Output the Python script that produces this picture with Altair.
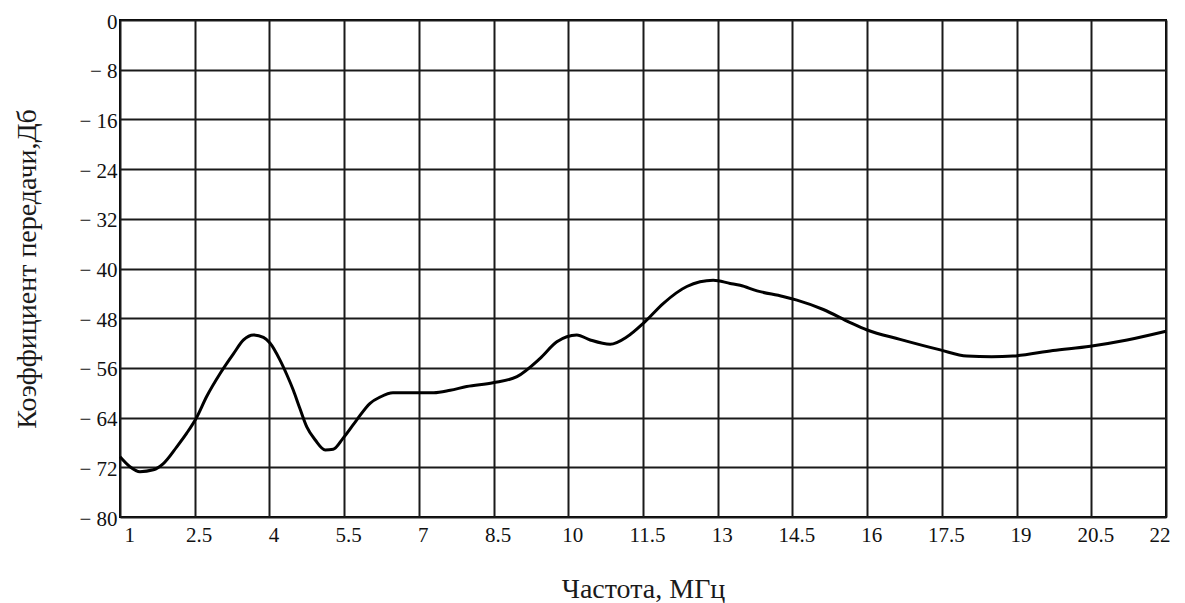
import altair as alt
import pandas as pd

# Transfer coefficient vs. frequency
freq_mhz = [1.0, 1.2, 1.4, 1.67, 1.87, 2.14, 2.34, 2.53, 2.74, 3.01, 3.28,
            3.48, 3.68, 3.88, 4.01, 4.21, 4.35, 4.48, 4.61, 4.75, 4.92, 5.12,
            5.28, 5.48, 5.75, 6.02, 6.22, 6.48, 7.0, 7.3, 7.63, 7.96, 8.49,
            8.97, 9.43, 9.77, 10.17, 10.44, 10.84, 11.18, 11.51, 11.91,
            12.38, 12.91, 13.25, 13.45, 13.79, 14.31, 14.59, 15.12, 15.66,
            16.0, 16.66, 17.47, 18.0, 18.5, 18.93, 19.73, 20.48, 21.22, 22.0]
gain_db = [-70.3, -71.9, -72.7, -72.4, -71.4, -68.7, -66.5, -64.1, -60.6,
           -56.9, -53.7, -51.5, -50.7, -51.1, -52.0, -54.7, -57.1, -59.6,
           -62.5, -65.5, -67.6, -69.2, -69.1, -67.3, -64.4, -61.7, -60.7,
           -60.0, -60.0, -60.0, -59.6, -59.0, -58.4, -57.4, -54.5, -51.8,
           -50.7, -51.5, -52.2, -51.0, -48.8, -45.6, -42.9, -41.9, -42.4,
           -42.7, -43.6, -44.5, -45.1, -46.6, -48.7, -49.9, -51.4, -53.1,
           -54.1, -54.2, -54.1, -53.2, -52.5, -51.5, -50.1]

x_ticks = [1, 2.5, 4, 5.5, 7, 8.5, 10, 11.5, 13, 14.5, 16, 17.5, 19, 20.5, 22]
y_ticks = [0, -8, -16, -24, -32, -40, -48, -56, -64, -72, -80]

df = pd.DataFrame({"f": freq_mhz, "k": gain_db})

FONT = "Liberation Serif"

chart = (
    alt.Chart(df)
    .mark_line(color="black", strokeWidth=3, interpolate="monotone")
    .encode(
        x=alt.X(
            "f:Q",
            scale=alt.Scale(domain=[1, 22], nice=False, zero=False),
            axis=alt.Axis(
                values=x_ticks,
                title="Частота, МГц",
                labelExpr="format(datum.value, '~g')",
                labelOffset=4,
                labelPadding=7,
                titlePadding=30,
            ),
        ),
        y=alt.Y(
            "k:Q",
            scale=alt.Scale(domain=[-80, 0], nice=False),
            axis=alt.Axis(
                values=y_ticks,
                title="Коэффициент передачи,Дб",
                labelExpr="datum.value == 0 ? '0' : '\u2212 ' + format(abs(datum.value), 'd')",
                labelPadding=3,
                labelOffset=2,
                titlePadding=37,
            ),
        ),
    )
    .properties(
        width=1046,
        height=497,
        autosize="none",
        padding={"left": 120, "top": 20, "right": 19, "bottom": 86},
    )
    .configure_view(stroke="black", strokeWidth=2)
    .configure_axis(
        grid=True,
        gridColor="#1a1a1a",
        gridWidth=2,
        gridOpacity=1,
        domain=False,
        ticks=False,
        labelFont=FONT,
        labelFontSize=21,
        labelColor="#111111",
        titleFont=FONT,
        titleFontSize=28,
        titleFontWeight="normal",
        titleColor="#1a1a1a",
    )
)

chart.save("out.html", embed_options={"renderer": "svg", "actions": False})
